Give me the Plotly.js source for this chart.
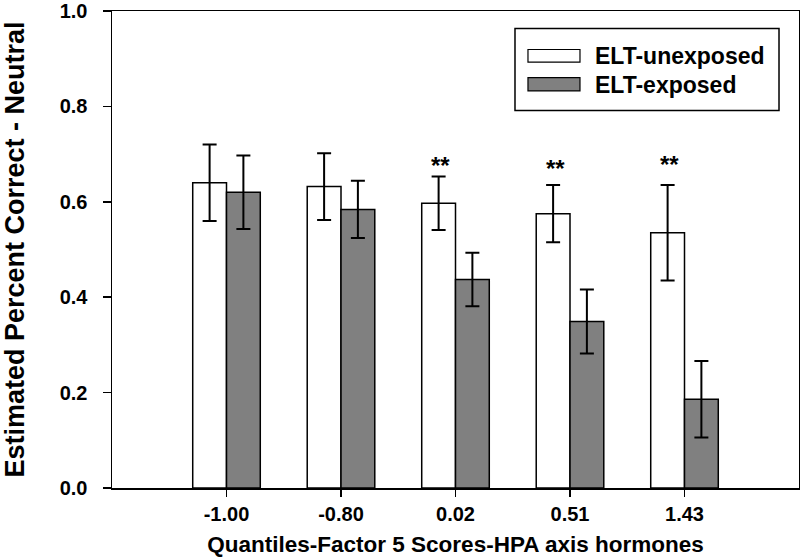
<!DOCTYPE html>
<html>
<head>
<meta charset="utf-8">
<script src="https://cdn.plot.ly/plotly-3.0.1.min.js"></script>
<style>html,body{margin:0;padding:0;background:#fff;}#chart{width:800px;height:557px;}</style>
</head>
<body>
<div id="chart"></div>
<script>
// Data
const categories = ["-1.00", "-0.80", "0.02", "0.51", "1.43"];
const unexposed = [0.640, 0.632, 0.597, 0.575, 0.535];
const unexposedErr = [0.080, 0.070, 0.056, 0.060, 0.100];
const exposed = [0.620, 0.584, 0.437, 0.349, 0.186];
const exposedErr = [0.077, 0.060, 0.056, 0.067, 0.080];
const significance = ["", "", "**", "**", "**"];
const sigY = [0, 0, 0.687, 0.680, 0.688];
const seriesNames = ["ELT-unexposed", "ELT-exposed"];
const seriesColors = ["#ffffff", "#808080"];
const yTickVals = [0, 0.2, 0.4, 0.6, 0.8, 1.0];
const yTickText = ["0.0", "0.2", "0.4", "0.6", "0.8", "1.0"];

const FONT = "Liberation Sans, Arial, Helvetica, sans-serif";

const traces = [
  {type: "bar", name: seriesNames[0], x: categories, y: unexposed,
   marker: {color: seriesColors[0], line: {color: "#000", width: 1.5}},
   error_y: {type: "data", array: unexposedErr, visible: true, color: "#000", thickness: 2, width: 7},
   showlegend: false},
  {type: "bar", name: seriesNames[1], x: categories, y: exposed,
   marker: {color: seriesColors[1], line: {color: "#000", width: 1.5}},
   error_y: {type: "data", array: exposedErr, visible: true, color: "#000", thickness: 2, width: 7},
   showlegend: false}
];

const annotations = [];
categories.forEach((c, i) => {
  if (significance[i]) {
    annotations.push({x: i, y: sigY[i], xref: "x", yref: "y", text: "<b>" + significance[i] + "</b>",
      showarrow: false, xshift: -15, yanchor: "middle", yshift: -5,
      font: {family: FONT, size: 24, color: "#000"}});
  }
});

// Custom legend (paper coordinates)
const legY = [0.906, 0.8456];
const swY = [[0.893, 0.9193], [0.8324, 0.8602]];
const shapes = [
  {type: "rect", xref: "paper", yref: "paper", x0: 0.5866, x1: 0.9709, y0: 0.7916, y1: 0.9633,
   line: {color: "#000", width: 1.5}, fillcolor: "#fff"}
];
seriesNames.forEach((n, i) => {
  shapes.push({type: "rect", xref: "paper", yref: "paper", x0: 0.6055, x1: 0.6812, y0: swY[i][0], y1: swY[i][1],
    line: {color: "#000", width: 1.2}, fillcolor: seriesColors[i]});
  annotations.push({xref: "paper", yref: "paper", x: 0.7001, y: legY[i], xanchor: "left", yanchor: "middle",
    text: "<b>" + n + "</b>", showarrow: false, font: {family: FONT, size: 23, color: "#000"}});
});

const layout = {
  width: 800, height: 557,
  margin: {l: 112, r: 1, t: 11, b: 69, pad: 0},
  paper_bgcolor: "#fff", plot_bgcolor: "#fff",
  barmode: "group", bargap: 0.41, bargroupgap: 0,
  font: {family: FONT, color: "#000"},
  xaxis: {type: "category", range: [-1, 5], showline: true, mirror: true, linecolor: "#000", linewidth: 1.5,
    ticks: "outside", ticklen: 7, tickwidth: 1.5, tickcolor: "#000", showgrid: false, zeroline: false,
    tickfont: {family: FONT, size: 20, color: "#000", weight: "bold"},
    title: {text: "<b>Quantiles-Factor 5 Scores-HPA axis hormones</b>", font: {family: FONT, size: 22.5, color: "#000"}, standoff: 18}},
  yaxis: {range: [0, 1.0], tickmode: "array", tickvals: yTickVals, ticktext: yTickText,
    ticklabeloverflow: "allow",
    showline: true, mirror: true, linecolor: "#000", linewidth: 1.5,
    ticks: "outside", ticklen: 8, tickwidth: 1.5, tickcolor: "#000", showgrid: false, zeroline: false,
    ticklabelstandoff: 11,
    tickfont: {family: FONT, size: 20, color: "#000", weight: "bold"},
    title: {text: "<b>Estimated Percent Correct - Neutral</b>", font: {family: FONT, size: 27, color: "#000"}, standoff: 30}},
  showlegend: false,
  shapes: shapes,
  annotations: annotations
};

Plotly.newPlot("chart", traces, layout, {displayModeBar: false, staticPlot: true});
</script>
</body>
</html>
